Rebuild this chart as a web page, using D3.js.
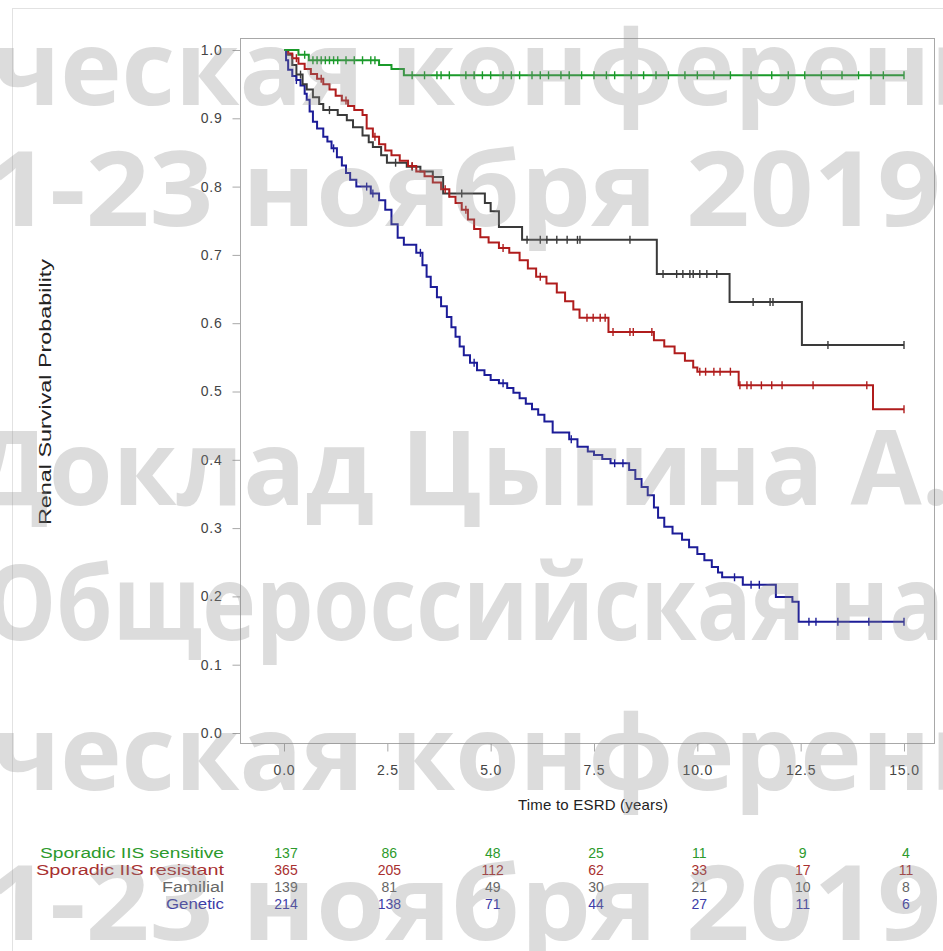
<!DOCTYPE html>
<html>
<head>
<meta charset="utf-8">
<script src="https://cdn.jsdelivr.net/npm/d3@7"></script>
<style>
  body { margin: 0; background: #fff; }
  svg { display: block; font-family: "Liberation Sans", Arial, sans-serif; }
</style>
</head>
<body>
<div id="chart"></div>
<script>
// group names and colours
const groups = ["Sporadic IIS sensitive", "Sporadic IIS resistant", "Familial", "Genetic"];
const lineColors = ["#1a9a2a", "#b01c1c", "#3a3a3a", "#1c1c98"];
const textColors = ["#2c9a2c", "#a83030", "#666666", "#3c3ca8"];

// Kaplan-Meier steps: [time (years), survival after the step]
const sensitiveSteps = [[0, 1.0], [0.35, 0.993], [0.6, 0.985], [2.3, 0.978], [2.6, 0.972], [2.9, 0.963], [15, 0.963]];
const resistantSteps = [[0, 1.0], [0.1, 0.995], [0.2, 0.988], [0.35, 0.98], [0.5, 0.972], [0.65, 0.965], [0.8, 0.958],
  [0.95, 0.95], [1.1, 0.942], [1.25, 0.933], [1.4, 0.926], [1.55, 0.918], [1.7, 0.912], [1.9, 0.905], [2.0, 0.885],
  [2.15, 0.873], [2.3, 0.862], [2.45, 0.853], [2.6, 0.846], [2.8, 0.838], [3.0, 0.83], [3.2, 0.822], [3.4, 0.815],
  [3.6, 0.806], [3.8, 0.796], [4.0, 0.785], [4.15, 0.776], [4.3, 0.766], [4.45, 0.752], [4.6, 0.738], [4.75, 0.726],
  [4.95, 0.718], [5.2, 0.71], [5.45, 0.703], [5.7, 0.692], [5.9, 0.68], [6.1, 0.668], [6.35, 0.658], [6.6, 0.645],
  [6.8, 0.632], [7.0, 0.62], [7.15, 0.608], [7.85, 0.587], [8.95, 0.575], [9.2, 0.566], [9.45, 0.556], [9.7, 0.545],
  [9.9, 0.535], [10.0, 0.529], [11.0, 0.509], [14.25, 0.474], [15, 0.474]];
const familialSteps = [[0, 1.0], [0.1, 0.993], [0.2, 0.978], [0.3, 0.964], [0.45, 0.95], [0.55, 0.942], [0.7, 0.931],
  [0.85, 0.921], [0.95, 0.912], [1.3, 0.905], [1.52, 0.897], [1.67, 0.887], [1.9, 0.875], [2.05, 0.865], [2.15, 0.858],
  [2.35, 0.846], [2.49, 0.835], [2.97, 0.829], [3.3, 0.822], [3.6, 0.814], [3.85, 0.79], [4.86, 0.776], [5.0, 0.764],
  [5.2, 0.741], [5.76, 0.722], [9.02, 0.672], [10.78, 0.631], [12.53, 0.568], [15, 0.568]];
const geneticSteps = [[0, 1.0], [0.05, 0.985], [0.1, 0.971], [0.2, 0.962], [0.3, 0.956], [0.4, 0.948], [0.5, 0.936],
  [0.55, 0.927], [0.62, 0.91], [0.7, 0.895], [0.8, 0.885], [0.95, 0.873], [1.05, 0.866], [1.15, 0.856], [1.28, 0.843],
  [1.4, 0.831], [1.5, 0.82], [1.6, 0.81], [1.75, 0.8], [2.1, 0.79], [2.3, 0.78], [2.45, 0.766], [2.6, 0.745],
  [2.75, 0.725], [2.9, 0.715], [3.2, 0.703], [3.35, 0.685], [3.45, 0.668], [3.55, 0.653], [3.7, 0.638], [3.8, 0.625],
  [3.94, 0.609], [4.05, 0.594], [4.15, 0.58], [4.25, 0.566], [4.35, 0.553], [4.5, 0.542], [4.67, 0.531], [4.85, 0.524],
  [5.0, 0.517], [5.2, 0.512], [5.4, 0.505], [5.55, 0.498], [5.7, 0.49], [5.85, 0.482], [6.0, 0.474], [6.15, 0.466],
  [6.3, 0.456], [6.5, 0.44], [6.9, 0.43], [7.1, 0.419], [7.35, 0.412], [7.5, 0.407], [7.7, 0.401], [7.9, 0.395],
  [8.35, 0.385], [8.5, 0.372], [8.65, 0.36], [8.8, 0.348], [8.95, 0.33], [9.05, 0.315], [9.2, 0.302], [9.4, 0.292],
  [9.63, 0.283], [9.8, 0.272], [10.0, 0.262], [10.17, 0.253], [10.35, 0.243], [10.5, 0.235], [10.6, 0.228],
  [11.1, 0.217], [11.9, 0.199], [12.3, 0.192], [12.45, 0.163], [15, 0.163]];

// censored observations (years)
const sensitiveCensored = [0.5, 0.7, 0.8, 0.9, 1.0, 1.1, 1.2, 1.3, 1.5, 1.7, 1.9, 2.1, 2.2, 3.1, 3.4, 3.7, 3.8, 4.0,
  4.4, 4.6, 4.8, 5.0, 5.3, 5.5, 5.7, 6.0, 6.2, 6.4, 6.7, 6.9, 7.2, 7.5, 7.8, 8.0, 8.4, 8.7, 9.0, 9.3, 9.7, 10.0,
  10.4, 10.8, 11.3, 11.8, 12.2, 12.6, 13.0, 13.5, 13.9, 14.2, 14.5, 15.0];
const resistantCensored = [0.3, 0.9, 1.5, 2.2, 3.1, 3.9, 4.4, 5.3, 6.2, 7.33, 7.48, 7.65, 7.77, 7.96, 8.37, 8.45, 8.9,
  10.06, 10.2, 10.4, 10.55, 10.8, 11.03, 11.2, 11.3, 11.55, 11.8, 12.05, 12.8, 14.1, 15.0];
const familialCensored = [0.4, 1.1, 2.7, 3.1, 4.0, 4.3, 5.88, 6.2, 6.36, 6.6, 6.85, 7.1, 7.16, 8.37, 9.17, 9.5, 9.65,
  9.82, 9.9, 10.06, 10.23, 10.47, 11.35, 11.76, 11.83, 13.16, 15.0];
const geneticCensored = [0.3, 1.2, 2.0, 2.15, 3.3, 4.6, 5.3, 6.95, 8.0, 8.2, 10.9, 11.3, 11.5, 12.7, 12.87, 13.4, 14.15, 15.0];

// numbers at risk
const riskTimes = [0, 2.5, 5, 7.5, 10, 12.5, 15];
const sensitiveRisk = [137, 86, 48, 25, 11, 9, 4];
const resistantRisk = [365, 205, 112, 62, 33, 17, 11];
const familialRisk = [139, 81, 49, 30, 21, 10, 8];
const geneticRisk = [214, 138, 71, 44, 27, 11, 6];

const xTicks = [0, 2.5, 5, 7.5, 10, 12.5, 15];
const yTicks = [0, 0.1, 0.2, 0.3, 0.4, 0.5, 0.6, 0.7, 0.8, 0.9, 1.0];

const watermarkLines = ["ческая конференц", "1-23 ноября 2019", "Доклад Цыгина А.Н", "Общероссийская на", "ческая конференц", "1-23 ноября 2019"];

const allSteps = [sensitiveSteps, resistantSteps, familialSteps, geneticSteps];
const allCensored = [sensitiveCensored, resistantCensored, familialCensored, geneticCensored];
const allRisk = [sensitiveRisk, resistantRisk, familialRisk, geneticRisk];

const W = 943, H = 951;
const frame = { left: 240, top: 38, right: 934, bottom: 743 };

const svg = d3.select("#chart").append("svg")
    .attr("width", W)
    .attr("height", H);

// outer picture border
svg.append("rect")
    .attr("x", 12.5).attr("y", 8.5)
    .attr("width", 940).attr("height", 960)
    .attr("fill", "none")
    .attr("stroke", "#e2e2e2");

const x = d3.scaleLinear().domain([0, 15]).range([284, 904]);
const y = d3.scaleLinear().domain([0, 1]).range([733, 50]);

// plot frame
svg.append("rect")
    .attr("x", frame.left + 0.5).attr("y", frame.top + 0.5)
    .attr("width", frame.right - frame.left)
    .attr("height", frame.bottom - frame.top)
    .attr("fill", "none")
    .attr("stroke", "#a8a8a8");

// axes
const yAxis = svg.append("g")
    .attr("transform", "translate(" + (frame.left + 0.5) + ",0)")
    .call(d3.axisLeft(y).tickValues(yTicks).tickFormat(d3.format(".1f")).tickSize(8).tickPadding(10));
const xAxis = svg.append("g")
    .attr("transform", "translate(0," + (frame.bottom + 0.5) + ")")
    .call(d3.axisBottom(x).tickValues(xTicks).tickFormat(d3.format(".1f")).tickSize(8).tickPadding(14));

[xAxis, yAxis].forEach(a => {
    a.select(".domain").remove();
    a.selectAll(".tick line").attr("stroke", "#a8a8a8");
    a.selectAll(".tick text")
        .attr("fill", "#444")
        .style("font-size", "14px")
        .style("letter-spacing", "0.8px")
        .style("font-family", "'Liberation Sans', Arial, sans-serif");
});

svg.append("text")
    .attr("x", 593).attr("y", 810)
    .attr("text-anchor", "middle")
    .attr("fill", "#222")
    .style("font-size", "15px")
    .attr("textLength", 150)
    .text("Time to ESRD (years)");

svg.append("text")
    .attr("transform", "translate(51,392) rotate(-90)")
    .attr("text-anchor", "middle")
    .attr("fill", "#222")
    .style("font-size", "16px")
    .attr("textLength", 266)
    .attr("lengthAdjust", "spacingAndGlyphs")
    .text("Renal Survival Probability");

// survival curves
const line = d3.line()
    .x(d => x(d[0]))
    .y(d => y(d[1]))
    .curve(d3.curveStepAfter);

function survAt(steps, t) {
    let s = steps[0][1];
    steps.forEach(p => { if (p[0] <= t) s = p[1]; });
    return s;
}

// draw in order so green sits on top like the original
const order = [3, 2, 1, 0];
order.forEach(i => {
    const g = svg.append("g");
    g.append("path")
        .datum(allSteps[i])
        .attr("d", line)
        .attr("fill", "none")
        .attr("stroke", lineColors[i])
        .attr("stroke-width", 2);
    g.selectAll("line.cens")
        .data(allCensored[i])
        .enter()
        .append("line")
        .attr("class", "cens")
        .attr("x1", d => x(d)).attr("x2", d => x(d))
        .attr("y1", d => y(survAt(allSteps[i], d)) - 4)
        .attr("y2", d => y(survAt(allSteps[i], d)) + 4)
        .attr("stroke", lineColors[i])
        .attr("stroke-width", 1.4);
});

// number at risk table
const rowY = [858, 875, 892, 909];
const labelWidth = [184, 188, 62, 58];
groups.forEach((name, i) => {
    svg.append("text")
        .attr("x", 224).attr("y", rowY[i])
        .attr("text-anchor", "end")
        .attr("fill", textColors[i])
        .style("font-size", "14px")
        .attr("textLength", labelWidth[i])
        .attr("lengthAdjust", "spacingAndGlyphs")
        .text(name);
    svg.selectAll(null)
        .data(allRisk[i])
        .enter()
        .append("text")
        .attr("x", (d, j) => x(riskTimes[j]) + 2)
        .attr("y", rowY[i])
        .attr("text-anchor", "middle")
        .attr("fill", textColors[i])
        .style("font-size", "14px")
        .text(d => d);
});

// conference watermark
const wmY = [105, 226, 505, 640, 790, 940];
const wmX = [-8, -14, -30, -16, -8, -14];
const wmLen = [1010, 955, 1060, 960, 1010, 955];
svg.append("g")
    .attr("pointer-events", "none")
    .selectAll("text")
    .data(watermarkLines)
    .enter()
    .append("text")
    .attr("x", (d, i) => wmX[i])
    .attr("y", (d, i) => wmY[i])
    .attr("fill", "#8c8c8c")
    .attr("fill-opacity", 0.3)
    .style("font-family", "'Open Sans', 'DejaVu Sans', sans-serif")
    .style("font-weight", 700)
    .style("font-size", "104px")
    .attr("textLength", (d, i) => wmLen[i])
    .attr("lengthAdjust", "spacingAndGlyphs")
    .text(d => d);
</script>
</body>
</html>
